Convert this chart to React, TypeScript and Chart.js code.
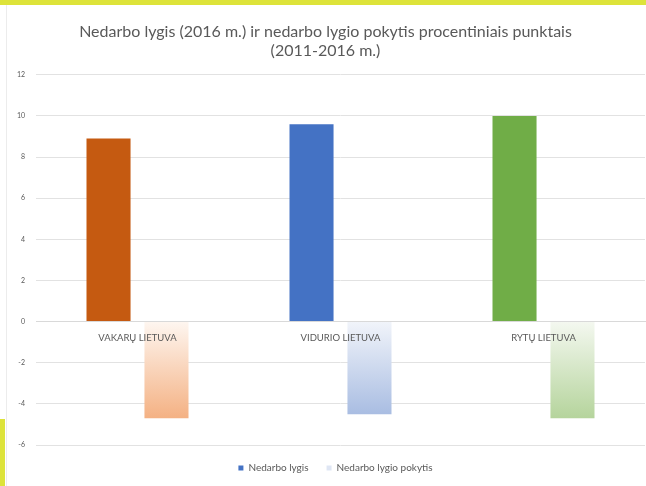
import React, { useEffect, useRef } from "react";
import { Chart, registerables } from "chart.js";

Chart.register(...registerables);

const TITLE_LINES = [
  "Nedarbo lygis (2016 m.) ir nedarbo lygio pokytis procentiniais punktais",
  "(2011-2016 m.)",
];
const categories = ["VAKARŲ LIETUVA", "VIDURIO LIETUVA", "RYTŲ LIETUVA"];
const levelLabel = "Nedarbo lygis";
const levelValues = [8.9, 9.6, 10.0];
const changeLabel = "Nedarbo lygio pokytis";
const changeValues = [-4.7, -4.5, -4.7];
const yMin = -6;
const yMax = 12;
const yStep = 2;

const levelColors = ["#c55a11", "#4472c4", "#70ad47"];
const changeTop = ["#fef6f0", "#f1f4fa", "#f4f8f0"];
const changeBottom = ["#f4b183", "#a9bde2", "#b5d49c"];
const FONT = "Lato, 'Open Sans', sans-serif";
const TEXT = "#595959";

const legendShift = {
  id: "legendShift",
  afterLayout(chart: any) {
    if (chart.legend) {
      chart.legend.left += 10;
      chart.legend.right += 10;
    }
  },
};

export default function App() {
  const ref = useRef<HTMLCanvasElement | null>(null);

  useEffect(() => {
    if (!ref.current) return;
    const chart = new Chart(ref.current, {
      type: "bar",
      data: {
        labels: categories,
        datasets: [
          {
            label: levelLabel,
            data: levelValues,
            backgroundColor: levelColors,
            categoryPercentage: 0.571,
            barPercentage: 0.76,
          },
          {
            label: changeLabel,
            data: changeValues,
            backgroundColor: (ctx: any) => {
              const c = ctx.chart;
              const i = ctx.dataIndex;
              if (!c.chartArea || i === undefined) return changeBottom[0];
              const y0 = c.scales.y.getPixelForValue(0);
              const y1 = c.scales.y.getPixelForValue(changeValues[i]);
              const g = c.ctx.createLinearGradient(0, y0, 0, y1);
              g.addColorStop(0, changeTop[i]);
              g.addColorStop(1, changeBottom[i]);
              return g;
            },
            categoryPercentage: 0.571,
            barPercentage: 0.76,
          },
        ],
      },
      options: {
        animation: false,
        responsive: false,
        layout: { padding: { left: 6, right: 1, top: 0, bottom: 3 } },
        plugins: {
          title: {
            display: true,
            text: TITLE_LINES,
            color: TEXT,
            font: { family: FONT, size: 16, weight: "normal", lineHeight: 1.15 },
            padding: { top: 23, bottom: 15 },
          },
          legend: {
            position: "bottom",
            labels: {
              color: TEXT,
              font: { family: FONT, size: 10 },
              boxWidth: 5,
              boxHeight: 5,
              padding: 18,
              generateLabels: (c: any) =>
                c.data.datasets.map((d: any, i: number) => ({
                  text: d.label,
                  fillStyle: i === 0 ? "#4472c4" : "#dfe6f4",
                  strokeStyle: i === 0 ? "#4472c4" : "#dfe6f4",
                  lineWidth: 0,
                  hidden: false,
                  datasetIndex: i,
                  fontColor: TEXT,
                })),
            },
          },
          tooltip: { enabled: false },
        },
        scales: {
          x: {
            position: { y: 0 } as any,
            grid: { display: false, drawTicks: false },
            border: { display: true, color: "#d9d9d9" },
            ticks: { z: 1, color: TEXT, font: { family: FONT, size: 9.5 }, padding: 11, maxRotation: 0, autoSkip: false },
            afterFit: (s: any) => {
              s.paddingLeft = 0;
              s.paddingRight = 0;
            },
          },
          y: {
            min: yMin,
            max: yMax,
            ticks: { stepSize: yStep, color: TEXT, font: { family: FONT, size: 7 }, padding: 11 },
            grid: { color: "#e2e2e2", drawTicks: false },
            border: { display: false },
            afterFit: (s: any) => {
              s.width = 30;
            },
          },
        },
      },
      plugins: [legendShift],
    } as any);
    return () => chart.destroy();
  }, []);

  return (
    <div style={{ position: "fixed", left: 0, top: 0, width: 646, height: 486, background: "#fff", overflow: "hidden" }}>
      <canvas ref={ref} width={646} height={486} style={{ display: "block", width: 646, height: 486 }} />
      <div style={{ position: "absolute", left: 0, top: 0, width: 646, height: 5, background: "#dde33a" }} />
      <div style={{ position: "absolute", left: 0, top: 419, width: 5, height: 67, background: "#dde33a" }} />
      <div style={{ position: "absolute", left: 6, top: 5, width: 1, height: 481, background: "#ececec" }} />
    </div>
  );
}
